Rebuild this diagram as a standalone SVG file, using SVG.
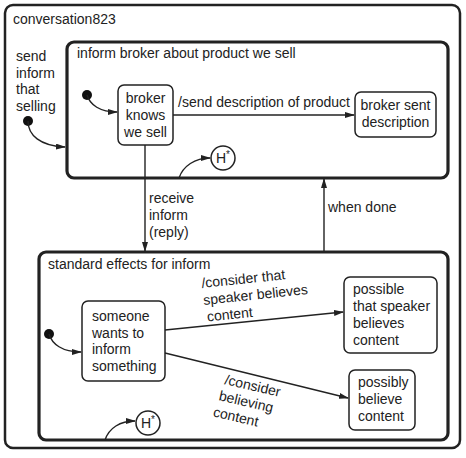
<svg xmlns="http://www.w3.org/2000/svg" width="466" height="458" viewBox="0 0 466 458">
<defs>
<marker id="ah" markerWidth="10" markerHeight="6" refX="9" refY="3" orient="auto" markerUnits="userSpaceOnUse">
<path d="M0,0 L10,3 L0,6 Z" fill="#222"/>
</marker>
<style>
text{font-family:"Liberation Sans",Arial,sans-serif;font-size:14px;fill:#222}
.outer{fill:#fff;stroke:#222;stroke-width:2.5}
.comp{fill:#fff;stroke:#222;stroke-width:3.2}
.st{fill:#fff;stroke:#222;stroke-width:1.5}
.tr{fill:none;stroke:#222;stroke-width:1.4}
.arr{marker-end:url(#ah)}
.dot{fill:#111}
.mid{text-anchor:middle}
.sup{font-size:10px}
</style>
</defs>
<g id="conversation823">
<rect class="outer" x="5" y="5" width="455" height="443" rx="8"/>
<text x="13" y="24">conversation823</text>
</g>
<g id="inform-broker">
<rect class="comp" x="67" y="42" width="381" height="136" rx="7"/>
<text x="77" y="58">inform broker about product we sell</text>
</g>
<g id="standard-effects">
<rect class="comp" x="39" y="252" width="409" height="188" rx="7"/>
<text x="48" y="269">standard effects for inform</text>
</g>
<g id="init-outer"><circle class="dot" cx="28" cy="121" r="5"/></g>
<g id="init-upper"><circle class="dot" cx="87" cy="95" r="5"/></g>
<g id="init-lower"><circle class="dot" cx="49" cy="334" r="5"/></g>
<g id="broker-knows">
<rect class="st" x="118" y="85" width="55" height="60" rx="6"/>
<text class="mid" x="145.500" y="103">broker</text>
<text class="mid" x="145.500" y="120">knows</text>
<text class="mid" x="145.500" y="137">we sell</text>
</g>
<g id="broker-sent">
<rect class="st" x="355" y="92" width="81" height="45" rx="6"/>
<text class="mid" x="395.500" y="110">broker sent</text>
<text class="mid" x="395.500" y="127">description</text>
</g>
<g id="history-upper">
<circle class="st" cx="223" cy="158" r="12"/>
<text class="mid" x="223" y="163">H<tspan class="sup" dy="-5">*</tspan></text>
</g>
<g id="someone">
<rect class="st" x="82" y="301" width="83" height="80" rx="6"/>
<text x="92" y="321">someone</text>
<text x="92" y="338">wants to</text>
<text x="92" y="354">inform</text>
<text x="92" y="371">something</text>
</g>
<g id="possible-speaker">
<rect class="st" x="344" y="277" width="93" height="76" rx="6"/>
<text x="353" y="294">possible</text>
<text x="353" y="311">that speaker</text>
<text x="353" y="328">believes</text>
<text x="353" y="345">content</text>
</g>
<g id="possibly-believe">
<rect class="st" x="349" y="370" width="66" height="60" rx="6"/>
<text x="358" y="387">possibly</text>
<text x="358" y="404">believe</text>
<text x="358" y="421">content</text>
</g>
<g id="history-lower">
<circle class="st" cx="148" cy="423" r="12"/>
<text class="mid" x="148" y="428">H<tspan class="sup" dy="-5">*</tspan></text>
</g>
<g id="connectors">
<path class="tr arr" d="M28,121 C28,135 40,146 65,147"/>
<path class="tr arr" d="M87,95 C90,105 100,112 117,112"/>
<path class="tr arr" d="M49,334 C52,344 62,352 81,352"/>
<path class="tr arr" d="M173,115 L354,115"/>
<path class="tr arr" d="M179,178 C183,166 195,158 210,158"/>
<path class="tr arr" d="M105,440 C109,428 120,421 135,421"/>
<path class="tr arr" d="M145,145 L145,251"/>
<path class="tr arr" d="M324,251 L324,179"/>
<path class="tr arr" d="M165,330 L343,312"/>
<path class="tr arr" d="M165,353 L348,398"/>
</g>
<g id="labels">
<text x="16" y="61">send</text>
<text x="16" y="78">inform</text>
<text x="16" y="94">that</text>
<text x="16" y="111">selling</text>
<text x="178" y="107">/send description of product</text>
<text x="149" y="203">receive</text>
<text x="149" y="220">inform</text>
<text x="149" y="237">(reply)</text>
<text x="328" y="212">when done</text>
<g transform="rotate(-6 202 288)">
<text x="202" y="288">/consider that</text>
<text x="202" y="305">speaker believes</text>
<text x="204" y="322">content</text>
</g>
<g transform="rotate(13 224 384)">
<text x="224" y="384">/consider</text>
<text x="222" y="401">believing</text>
<text x="220" y="418">content</text>
</g>
</g>
</svg>
